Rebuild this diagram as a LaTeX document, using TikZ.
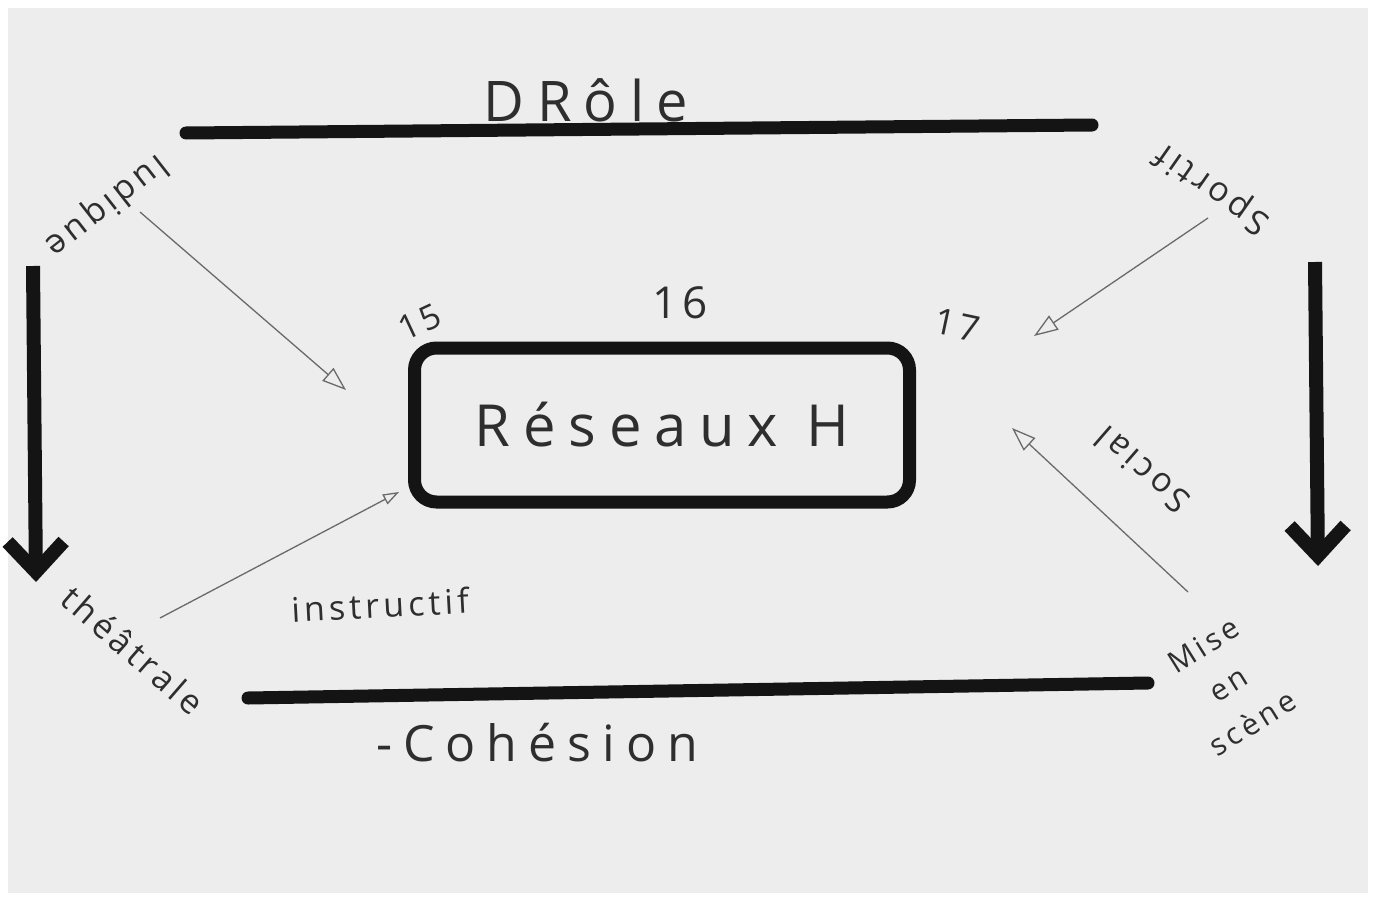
\documentclass[tikz,border=0pt]{standalone}
\usepackage{fontspec}
\setmainfont{Open Sans}
\newfontfamily\hand[LetterSpace=12]{Open Sans}
\newfontfamily\handwide[LetterSpace=22]{Open Sans}
\usetikzlibrary{arrows.meta}
\definecolor{paper}{HTML}{EDEDED}
\definecolor{ink}{HTML}{2E2E2E}
\definecolor{marker}{HTML}{141414}
\definecolor{pencil}{HTML}{6A6A6A}
\begin{document}
\begin{tikzpicture}[x=1pt,y=-1pt,
  hw/.style={text=ink, inner sep=0pt},
  heavy/.style={draw=marker, line width=13pt, line cap=round},
  heavyarrow/.style={draw=marker, line width=14pt, -{Straight Barb[length=30pt,width=56pt]}},
  pointer/.style={draw=pencil, line width=1.3pt, -{Triangle[open,length=24pt,width=17pt,line width=1.3pt]}},
  smallpointer/.style={draw=pencil, line width=1.3pt, -{Triangle[open,length=16pt,width=11pt,line width=1.3pt]}},
  boxstyle/.style={draw=marker, line width=13pt, rounded corners=22pt, minimum width=495pt, minimum height=154pt, text=ink}
]
\useasboundingbox (0,0) rectangle (1381,899);
\fill[white] (0,0) rectangle (1381,899);
\fill[paper] (8,8) rectangle (1368,893);

% heavy lines
\coordinate (tl) at (186,133);
\coordinate (tr) at (1092,125);
\draw[heavy] (tl) -- (tr);
\coordinate (bl) at (248,698);
\coordinate (br) at (1148,683);
\draw[heavy] (bl) -- (br);

% heavy arrows
\coordinate (ls) at (33,266);
\coordinate (le) at (36,582);
\draw[heavyarrow] (ls) -- (le);
\coordinate (rs) at (1315,262);
\coordinate (re) at (1318,566);
\draw[heavyarrow] (rs) -- (re);

% central box
\node[boxstyle, font=\handwide\fontsize{58}{58}\selectfont] (box) at (662,425) {Réseaux H};

% labels
\node[hw, font=\handwide\fontsize{56}{56}\selectfont] (drole) at (586,100) {DRôle};
\node[hw, font=\handwide\fontsize{50}{50}\selectfont] (cohesion) at (537,743) {-Cohésion};
\node[hw, font=\hand\fontsize{34}{34}\selectfont, rotate=-142] (ludique) at (106,205) {ludique};
\node[hw, font=\hand\fontsize{34}{34}\selectfont, rotate=145] (sportif) at (1213,188) {Sportif};
\node[hw, font=\hand\fontsize{34}{34}\selectfont, rotate=139] (social) at (1142,470) {Social};
\node[hw, font=\hand\fontsize{30}{46}\selectfont, rotate=32, align=center] (mise) at (1228,684) {Mise\\en\\scène};
\node[hw, font=\hand\fontsize{34}{34}\selectfont, rotate=-41] (theatrale) at (133,650) {théâtrale};
\node[hw, font=\hand\fontsize{34}{34}\selectfont, rotate=3] (instructif) at (380,605) {instructif};
\node[hw, font=\hand\fontsize{34}{34}\selectfont, rotate=25] (n15) at (420,322) {15};
\node[hw, font=\hand\fontsize{44}{44}\selectfont] (n16) at (680,303) {16};
\node[hw, font=\hand\fontsize{36}{36}\selectfont, rotate=-12] (n17) at (957,325) {17};

% pencil pointers
\coordinate (lqs) at (140,212);
\coordinate (lqt) at (346,390);
\draw[pointer] (lqs) -- (lqt);
\coordinate (sps) at (1208,218);
\coordinate (spt) at (1034,336);
\draw[pointer] (sps) -- (spt);
\coordinate (scs) at (1188,592);
\coordinate (sct) at (1012,428);
\draw[pointer] (scs) -- (sct);
\coordinate (ths) at (160,618);
\coordinate (tht) at (399,492);
\draw[smallpointer] (ths) -- (tht);
\end{tikzpicture}
\end{document}
